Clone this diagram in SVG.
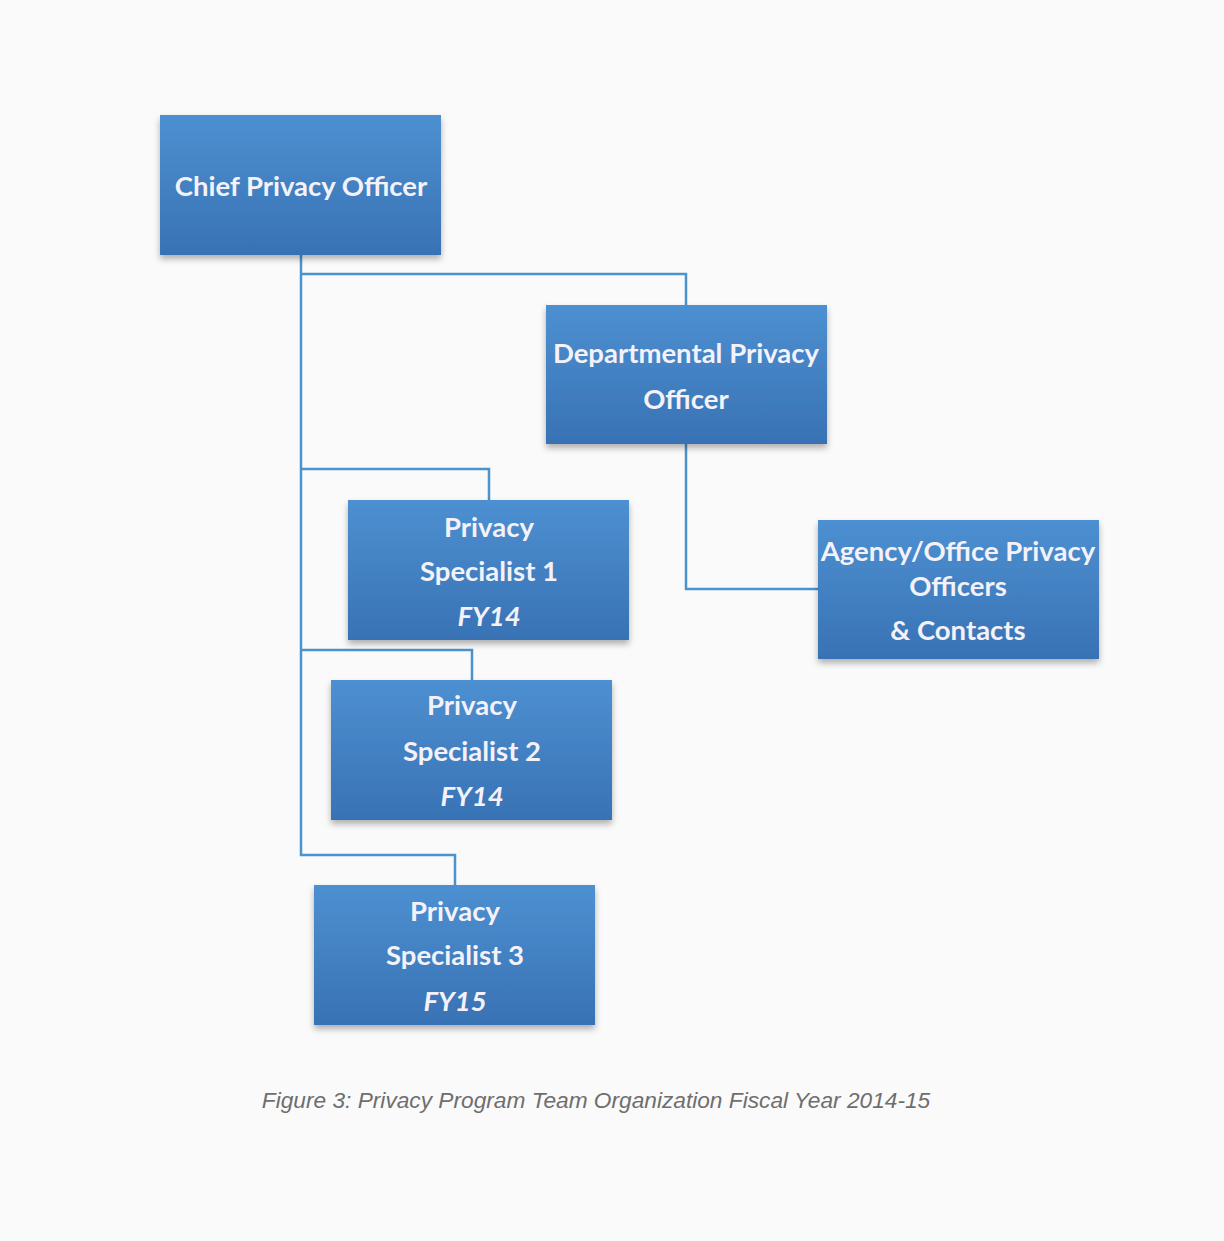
<svg xmlns="http://www.w3.org/2000/svg" width="1224" height="1241" viewBox="0 0 1224 1241">
<defs>
<linearGradient id="bx" x1="0" y1="0" x2="0" y2="1">
<stop offset="0" stop-color="#4d90d1"/>
<stop offset="1" stop-color="#3872b4"/>
</linearGradient>
<filter id="sh" x="-10%" y="-10%" width="120%" height="130%">
<feDropShadow dx="0" dy="4" stdDeviation="3" flood-color="#000" flood-opacity="0.3"/>
</filter>
</defs>
<style>
.box{fill:url(#bx);filter:url(#sh);}
.t{font-family:Lato,"Open Sans","Liberation Sans",sans-serif;font-weight:bold;font-size:27.5px;fill:#f4f2f8;text-anchor:middle;}
.i{font-style:italic;}
.c{fill:none;stroke:#4b93cc;stroke-width:2.5;}
.cap{font-family:"Liberation Sans",Arial,sans-serif;font-style:italic;font-size:22.7px;fill:#6e6e6e;}
</style>
<rect width="1224" height="1241" fill="#fafafa"/>
<g id="connectors">
<path class="c" d="M301 255V855H455V885"/>
<path class="c" d="M301 274H686V305"/>
<path class="c" d="M301 469H489V500"/>
<path class="c" d="M301 650H472V680"/>
<path class="c" d="M686 444V589H818"/>
</g>
<g id="chief">
<rect class="box" x="160" y="115" width="281" height="140"/>
<text class="t" x="301" y="196">Chief Privacy Officer</text>
</g>
<g id="departmental">
<rect class="box" x="546" y="305" width="281" height="139"/>
<text class="t" x="686" y="363">Departmental Privacy</text>
<text class="t" x="686" y="409">Officer</text>
</g>
<g id="agency">
<rect class="box" x="818" y="520" width="281" height="139"/>
<text class="t" x="958" y="561">Agency/Office Privacy</text>
<text class="t" x="958" y="596">Officers</text>
<text class="t" x="958" y="640">&amp; Contacts</text>
</g>
<g id="ps1">
<rect class="box" x="348" y="500" width="281" height="140"/>
<text class="t" x="489" y="537">Privacy</text>
<text class="t" x="489" y="581">Specialist 1</text>
<text class="t i" x="489" y="626">FY14</text>
</g>
<g id="ps2">
<rect class="box" x="331" y="680" width="281" height="140"/>
<text class="t" x="472" y="715">Privacy</text>
<text class="t" x="472" y="761">Specialist 2</text>
<text class="t i" x="472" y="806">FY14</text>
</g>
<g id="ps3">
<rect class="box" x="314" y="885" width="281" height="140"/>
<text class="t" x="455" y="921">Privacy</text>
<text class="t" x="455" y="965">Specialist 3</text>
<text class="t i" x="455" y="1011">FY15</text>
</g>
<text class="cap" x="596" y="1108" text-anchor="middle">Figure 3: Privacy Program Team Organization Fiscal Year 2014-15</text>
</svg>
